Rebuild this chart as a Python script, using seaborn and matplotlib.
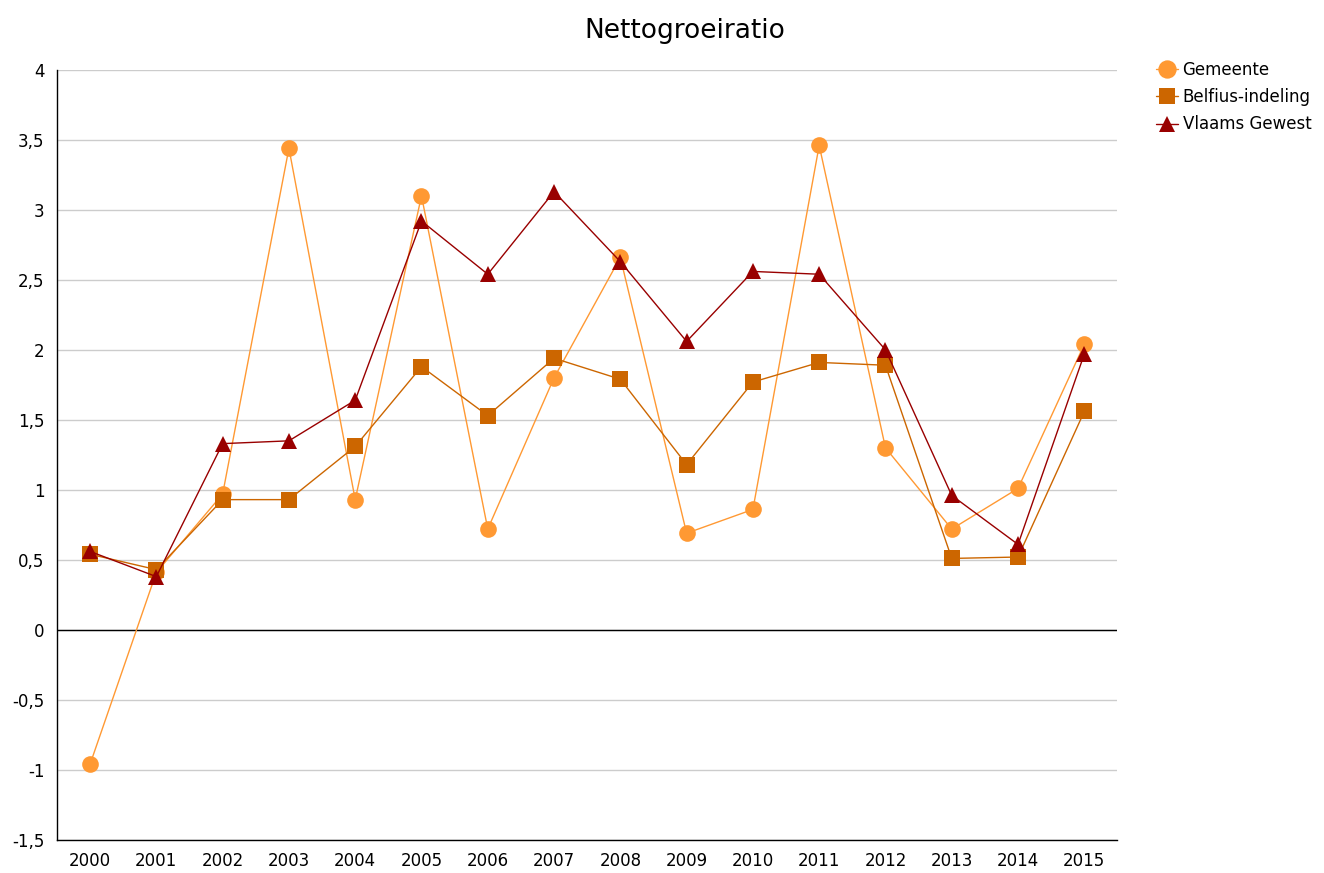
import pandas as pd
import seaborn as sns
import matplotlib.pyplot as plt

# Data
years = list(range(2000, 2016))
gemeente = [-0.96, 0.41, 0.97, 3.44, 0.93, 3.10, 0.72, 1.80, 2.66, 0.69, 0.86, 3.46, 1.30, 0.72, 1.01, 2.04]
belfius = [0.54, 0.43, 0.93, 0.93, 1.31, 1.88, 1.53, 1.94, 1.79, 1.18, 1.77, 1.91, 1.89, 0.51, 0.52, 1.56]
vlaams = [0.56, 0.38, 1.33, 1.35, 1.64, 2.92, 2.54, 3.13, 2.63, 2.06, 2.56, 2.54, 2.00, 0.96, 0.61, 1.97]

series_names = ['Gemeente', 'Belfius-indeling', 'Vlaams Gewest']
colors = ['#ff9933', '#cc6600', '#990000']
markers = ['o', 's', '^']
sizes = [12, 11, 11]

df = pd.DataFrame({'Jaar': years, 'Gemeente': gemeente,
                   'Belfius-indeling': belfius, 'Vlaams Gewest': vlaams})
long = df.melt(id_vars='Jaar', var_name='Reeks', value_name='Waarde')

sns.set_style('white')
plt.rcParams['font.family'] = ['DejaVu Sans']
plt.rcParams['text.color'] = 'black'
plt.rcParams['xtick.color'] = 'black'
plt.rcParams['ytick.color'] = 'black'

fig = plt.figure(figsize=(13.24, 8.73), dpi=100)
ax = fig.add_axes([0.043, 0.038, 0.801, 0.882])

for name, col, mk, ms in zip(series_names, colors, markers, sizes):
    sub = long[long['Reeks'] == name]
    sns.lineplot(data=sub, x='Jaar', y='Waarde', ax=ax, color=col, marker=mk,
                 markersize=ms, markeredgewidth=0, linewidth=1.0, label=name)

ax.axhline(0, color='black', linewidth=1, zorder=1)
ax.set_xlim(1999.5, 2015.5)
ax.set_ylim(-1.5, 4)
ax.set_xticks(years)
ax.set_xticklabels([str(y) for y in years], fontsize=12)
yt = [-1.5, -1, -0.5, 0, 0.5, 1, 1.5, 2, 2.5, 3, 3.5, 4]
ax.set_yticks(yt)
ax.set_yticklabels([('%g' % v).replace('.', ',') for v in yt], fontsize=12)
ax.yaxis.grid(True, color='#cccccc', linewidth=1)
ax.set_axisbelow(True)
ax.set_xlabel('')
ax.set_ylabel('')
for s in ['top', 'right']:
    ax.spines[s].set_visible(False)
for s in ['left', 'bottom']:
    ax.spines[s].set_color('black')
    ax.spines[s].set_linewidth(1)
ax.tick_params(axis='y', length=0, pad=9)
ax.tick_params(axis='x', length=0, pad=9)

fig.suptitle('Nettogroeiratio', fontsize=19, x=0.517, y=0.979, va='top')
ax.legend(loc='upper left', bbox_to_anchor=(1.03, 1.02), frameon=False,
          fontsize=12, handlelength=1.3, handletextpad=0.3, labelspacing=0.55,
          borderaxespad=0, markerscale=1.1)

fig.savefig('out.png', dpi=100)
